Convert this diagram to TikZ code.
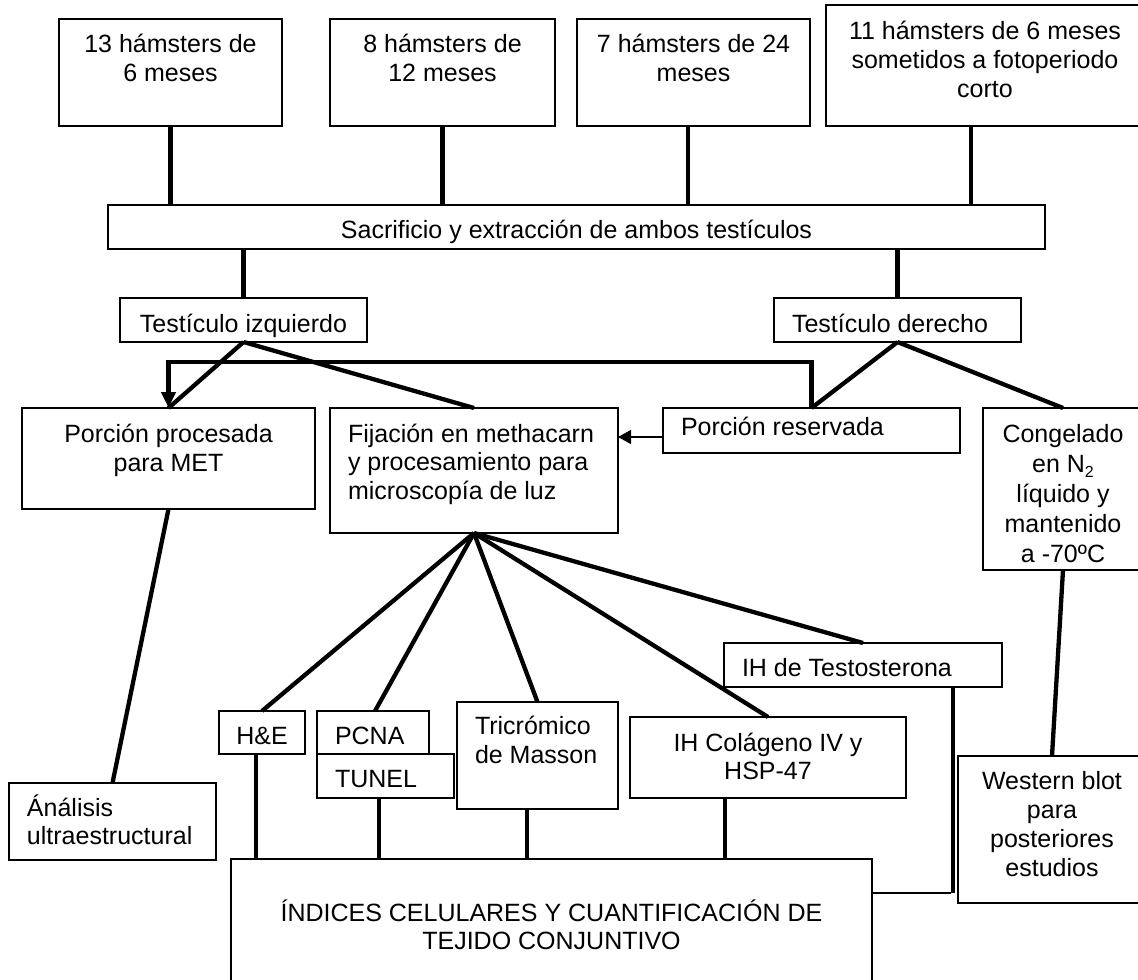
\documentclass[tikz,border=0pt]{standalone}
\usepackage{fontspec}
\setmainfont{Liberation Sans}
\usetikzlibrary{arrows.meta}
\newcommand{\bt}[6]{\parbox[t][#2pt][t]{#1pt}{\fontsize{25}{#6}\selectfont\vspace*{#3pt}#4\rule{0pt}{23.5pt}#5}}
\newcommand{\CC}{\centering}
\newcommand{\CR}{\centering\rightskip=24pt plus 1fil\relax}
\newcommand{\LL}{\raggedright\leftskip=18pt\relax}
\newcommand{\sbtwo}{\raisebox{-5pt}{\fontsize{16}{16}\selectfont 2}}
\tikzset{
  bx/.style={draw, line width=1.2pt, inner sep=0pt, outer sep=0pt, anchor=north west},
  conn/.style={line width=4.3pt},
  thinl/.style={line width=1.2pt}
}
\begin{document}
\begin{tikzpicture}[x=1pt,y=-1pt]
\clip (0,0) rectangle (1138,980);
% top row
\node[bx] (b1) at (59,19) {\bt{223}{107}{9.5}{\CC}{13 hámsters de\\6 meses}{29}};
\node[bx] (b2) at (330,19) {\bt{225}{107}{9.5}{\CC}{8 hámsters de\\12 meses}{29}};
\node[bx] (b3) at (577,19) {\bt{233}{107}{9.5}{\CC}{7 hámsters de 24\\meses}{29}};
\node[bx] (b4) at (826,5) {\bt{342}{121}{10.5}{\CR}{11 hámsters de 6 meses\\sometidos a fotoperiodo\\corto}{29}};
\node[bx] (sac) at (108,205) {\bt{937}{44}{9.5}{\CC}{Sacrificio y extracción de ambos testículos}{29}};
\node[bx] (ti) at (120,298) {\bt{247}{44}{10.5}{\CC}{Testículo izquierdo}{29}};
\node[bx] (td) at (774,298) {\bt{247}{44}{10.5}{\LL}{Testículo derecho}{29}};
% third row
\node[bx] (pp) at (22,408) {\bt{293}{101}{10.5}{\CC}{Porción procesada\\para MET}{29}};
\node[bx] (fij) at (330,408) {\bt{288}{125}{10.5}{\LL}{Fijación en methacarn\\y procesamiento para\\microscopía de luz}{28.5}};
\node[bx] (pr) at (663,408) {\bt{297}{45}{4.3}{\LL}{Porción reservada}{29}};
\node[bx] (cong) at (983,408) {\bt{184}{162}{10.5}{\CR}{Congelado\\en N\sbtwo\\líquido y\\mantenido\\a -70ºC}{30}};
% fourth row
\node[bx] (he) at (219,711) {\bt{86}{43}{9.5}{\CC}{H\&E}{29}};
\node[bx] (pc) at (317,711) {\bt{112}{43}{9.5}{\LL}{PCNA}{29}};
\node[bx] (tu) at (317,754) {\bt{137}{44}{9.5}{\LL}{TUNEL}{29}};
\node[bx] (tri) at (457,702) {\bt{161}{107}{8.5}{\LL}{Tricrómico\\de Masson}{29}};
\node[bx] (an) at (9,783) {\bt{207}{77}{9.5}{\LL}{Ánálisis\\ultraestructural}{28}};
\node[bx] (col) at (630,717) {\bt{276}{81}{10.5}{\CC}{IH Colágeno IV y\\HSP-47}{28}};
\node[bx] (ts) at (724,643) {\bt{278}{44}{9.5}{\LL}{IH de Testosterona}{29}};
\node[bx] (wb) at (958,756) {\bt{212}{147}{9.5}{\CR}{Western blot\\para\\posteriores\\estudios}{29.3}};
\node[bx] (idx) at (231,859) {\bt{641}{141}{38.5}{\CC}{ÍNDICES CELULARES Y CUANTIFICACIÓN DE\\TEJIDO CONJUNTIVO}{28}};
% connectors: top row to sacrificio
\draw[conn] (b1.south) -- (b1.south |- sac.north);
\draw[conn] (b2.south) -- (b2.south |- sac.north);
\draw[conn] ([xshift=-5.5pt]b3.south) -- ([xshift=-5.5pt]b3.south |- sac.north);
\draw[conn] ([xshift=-26pt]b4.south) -- ([xshift=-26pt]b4.south |- sac.north);
\draw[conn] (ti.north |- sac.south) -- (ti.north);
\draw[conn] (td.north |- sac.south) -- (td.north);
% testicles
\draw[conn] (ti.south) -- (pp.north);
\draw[conn] (ti.south) -- (fij.north);
\draw[conn] (td.south) -- (pr.north);
\draw[conn] (td.south) -- ([xshift=-12pt]cong.north);
\draw[conn, -{Triangle[width=14pt,length=16pt]}] (pr.north) -- ++(0,-46) -| (pp.north);
\draw[thinl, -{Triangle[width=14pt,length=13pt]}] ([yshift=-6.5pt]pr.west) -- ([yshift=-6.5pt]pr.west -| fij.east);
% fijacion fan
\draw[conn] (fij.south) -- (he.north);
\draw[conn] (fij.south) -- ([xshift=2pt]pc.north);
\draw[conn] (fij.south) -- (tri.north);
\draw[conn] (fij.south) -- (col.north);
\draw[conn] (fij.south) -- (ts.north);
\draw[conn] (pp.south) -- (an.north);
\draw[conn] ([xshift=-12pt]cong.south) -- ([xshift=-12pt]wb.north);
% to indices
\draw[conn] ([xshift=-6pt]he.south) -- ([xshift=-6pt]he.south |- idx.north);
\draw[conn] ([xshift=-6.5pt]tu.south) -- ([xshift=-6.5pt]tu.south |- idx.north);
\draw[conn] ([xshift=-10.5pt]tri.south) -- ([xshift=-10.5pt]tri.south |- idx.north);
\draw[conn] ([xshift=-43pt]col.south) -- ([xshift=-43pt]col.south |- idx.north);
\draw[conn] ([xshift=90pt]ts.south) -- ++(0,206) coordinate (tsc);
\draw[thinl] ([xshift=-2pt]tsc) -- (tsc -| idx.east);
\end{tikzpicture}
\end{document}
